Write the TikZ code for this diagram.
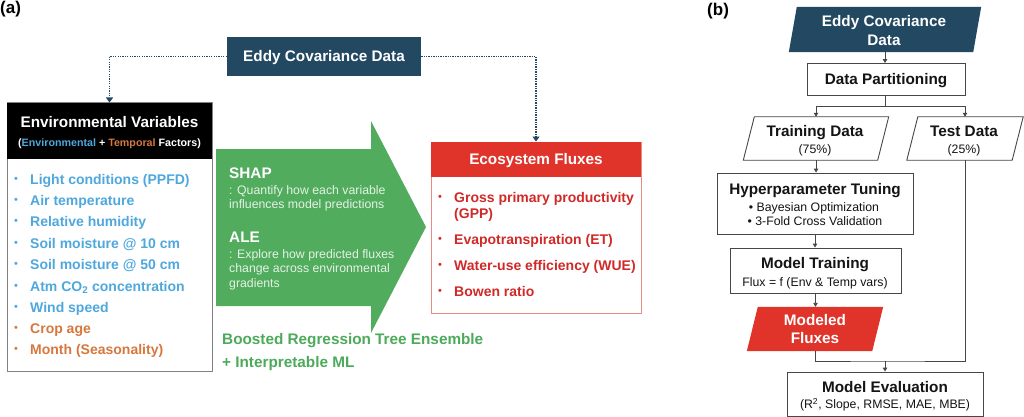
\documentclass[tikz,border=0pt]{standalone}
\usepackage{fontspec}
\setmainfont{Liberation Sans}
\usetikzlibrary{arrows.meta}
\definecolor{ecblue}{RGB}{35,72,97}
\definecolor{envblue}{RGB}{78,168,222}
\definecolor{envorange}{RGB}{214,120,62}
\definecolor{arrowgreen}{RGB}{82,172,94}
\definecolor{textgreen}{RGB}{76,170,90}
\definecolor{fluxred}{RGB}{224,52,42}
\definecolor{fluxtext}{RGB}{208,42,40}
\definecolor{fluxborder}{RGB}{232,140,130}
\definecolor{shaptext}{RGB}{228,242,228}
\definecolor{linegray}{RGB}{70,70,70}
\definecolor{envborder}{RGB}{130,130,130}
\definecolor{darktext}{RGB}{20,20,20}

% parallelogram: name, cx, cy, width, height, slant, path style
\newcommand\parabox[7]{%
  \node[inner sep=0pt, minimum width=#4, minimum height=#5] (#1) at (#2,#3) {};
  \path[#7] ([xshift=#6*0.5pt]#1.north west) -- ([xshift=#6*0.5pt]#1.north east)
    -- ([xshift=-#6*0.5pt]#1.south east) -- ([xshift=-#6*0.5pt]#1.south west) -- cycle;}

\begin{document}
\begin{tikzpicture}[x=1pt,y=-1pt,
  Bf/.style={inner sep=0pt, font=\fontsize{15.3}{18}\selectfont\bfseries, text height=11pt, text depth=0pt},
  Bl/.style={inner sep=0pt, font=\fontsize{14}{17}\selectfont\bfseries, text height=10pt, text depth=0pt},
  Rg/.style={inner sep=0pt, font=\fontsize{12.3}{15}\selectfont, text height=8.8pt, text depth=0pt},
  Sb/.style={inner sep=0pt, font=\fontsize{10.7}{13}\selectfont\bfseries, text height=7.7pt, text depth=0pt},
  Lb/.style={inner sep=0pt, font=\fontsize{17}{20}\selectfont\bfseries, text height=12pt, text depth=0pt},
  bul/.style={inner sep=0pt, font=\fontsize{11}{13}\selectfont, text height=6.6pt, text depth=0pt},
  rbox/.style={draw=linegray, line width=0.9pt, fill=white, inner sep=0pt},
  flowline/.style={draw=linegray, line width=0.9pt},
  flowarr/.style={flowline, -{Triangle[width=4.5pt,length=4pt]}},
  dotarr/.style={draw=ecblue, line width=1.9pt, dash pattern=on 1.3pt off 1.1pt, -{Triangle[width=7pt,length=5pt]}},
]
\useasboundingbox (0,0) rectangle (1024,417);

% ================= (a) =================
\node[Lb, anchor=west] (la) at (0,8) {(a)};

\node[Bf, text=white, fill=ecblue, minimum width=194pt, minimum height=39pt] (ec) at (324,56.5) {Eddy Covariance Data};

% Environmental variables box
\node[draw=envborder, line width=1pt, fill=white, minimum width=205pt, minimum height=268pt, inner sep=0pt] (env) at (109.5,237) {};
\node[fill=black, minimum width=205pt, minimum height=56pt, inner sep=0pt, anchor=north] (envh) at (env.north) {};
\node[Bf, text=white] (envt) at (109.5,122) {Environmental Variables};
\node[Sb, text=white] (envs) at (109.5,143) {(\textcolor{envblue}{Environmental} + \textcolor{envorange}{Temporal} Factors)};

\node[bul, text=envblue] (b1) at (16,179) {•};
\node[Bl, text=envblue, anchor=west] (e1) at (30,179) {Light conditions (PPFD)};
\node[bul, text=envblue] (b2) at (16,200) {•};
\node[Bl, text=envblue, anchor=west] (e2) at (30,200) {Air temperature};
\node[bul, text=envblue] (b3) at (16,221) {•};
\node[Bl, text=envblue, anchor=west] (e3) at (30,221) {Relative humidity};
\node[bul, text=envblue] (b4) at (16,243) {•};
\node[Bl, text=envblue, anchor=west] (e4) at (30,243) {Soil moisture @ 10 cm};
\node[bul, text=envblue] (b5) at (16,264) {•};
\node[Bl, text=envblue, anchor=west] (e5) at (30,264) {Soil moisture @ 50 cm};
\node[bul, text=envblue] (b6) at (16,286) {•};
\node[Bl, text=envblue, anchor=west] (e6) at (30,286) {Atm CO\textsubscript{2} concentration};
\node[bul, text=envblue] (b7) at (16,307) {•};
\node[Bl, text=envblue, anchor=west] (e7) at (30,307) {Wind speed};
\node[bul, text=envorange] (b8) at (16,328) {•};
\node[Bl, text=envorange, anchor=west] (e8) at (30,328) {Crop age};
\node[bul, text=envorange] (b9) at (16,349) {•};
\node[Bl, text=envorange, anchor=west] (e9) at (30,349) {Month (Seasonality)};

% Green arrow
\fill[arrowgreen] (216,149) -- (371,149) -- (371,121) -- (426,227) -- (371,333) -- (371,306) -- (216,306) -- cycle;
\node[Bf, text=white, anchor=west] (shap) at (229,173) {SHAP};
\node[Rg, text=shaptext, anchor=west] (shap1) at (229,190) {: Quantify how each variable};
\node[Rg, text=shaptext, anchor=west] (shap2) at (229,204.5) {influences model predictions};
\node[Bf, text=white, anchor=west] (ale) at (229,237) {ALE};
\node[Rg, text=shaptext, anchor=west] (ale1) at (229,254) {: Explore how predicted fluxes};
\node[Rg, text=shaptext, anchor=west] (ale2) at (229,268.5) {change across environmental};
\node[Rg, text=shaptext, anchor=west] (ale3) at (229,283) {gradients};

\node[Bf, text=textgreen, anchor=west] (brt1) at (222,339) {Boosted Regression Tree Ensemble};
\node[Bf, text=textgreen, anchor=west] (brt2) at (222,362) {+ Interpretable ML};

% Ecosystem fluxes box
\node[draw=fluxborder, line width=1pt, fill=white, minimum width=210pt, minimum height=171pt, inner sep=0pt] (flux) at (536,227.5) {};
\node[Bf, text=white, fill=fluxred, minimum width=210pt, minimum height=35pt, anchor=north] (fluxh) at (flux.north) {Ecosystem Fluxes};
\node[bul, text=fluxtext] (f1b) at (440,197) {•};
\node[Bl, text=fluxtext, anchor=west] (f1) at (454,197) {Gross primary productivity};
\node[Bl, text=fluxtext, anchor=west] (f1c) at (454,213) {(GPP)};
\node[bul, text=fluxtext] (f2b) at (440,239) {•};
\node[Bl, text=fluxtext, anchor=west] (f2) at (454,239) {Evapotranspiration (ET)};
\node[bul, text=fluxtext] (f3b) at (440,265) {•};
\node[Bl, text=fluxtext, anchor=west] (f3) at (454,265) {Water-use efficiency (WUE)};
\node[bul, text=fluxtext] (f4b) at (440,291) {•};
\node[Bl, text=fluxtext, anchor=west] (f4) at (454,291) {Bowen ratio};

\draw[dotarr] (ec.west) -| (env.north);
\draw[dotarr] (ec.east) -| (flux.north);

% ================= (b) =================
\node[Lb, anchor=west] (lb) at (707,10) {(b)};

\parabox{eddyR}{885}{29.5}{184pt}{45pt}{8}{fill=ecblue}
\node[Bf, text=white] (eddyRt1) at (884,21) {Eddy Covariance};
\node[Bf, text=white] (eddyRt2) at (884,40) {Data};

\node[rbox, Bf, text=darktext, minimum width=158pt, minimum height=32pt] (dp) at (886,79.5) {Data Partitioning};

\coordinate (split) at (885,106);

\parabox{train}{816}{138.5}{134pt}{43pt}{11}{draw=linegray, line width=0.9pt, fill=white}
\node[Bf, text=darktext] (traint) at (815,131) {Training Data};
\node[Rg, text=darktext] (trainp) at (815,149) {(75\%)};

\parabox{test}{965}{138.5}{105pt}{43pt}{11}{draw=linegray, line width=0.9pt, fill=white}
\node[Bf, text=darktext] (testt) at (964,131) {Test Data};
\node[Rg, text=darktext] (testp) at (964,149) {(25\%)};

\node[rbox, minimum width=196pt, minimum height=61pt] (hyper) at (815,203.5) {};
\node[Bf, text=darktext] (hypert) at (815,189) {Hyperparameter Tuning};
\node[Rg, text=darktext] (hyp1) at (814,207) {• Bayesian Optimization};
\node[Rg, text=darktext] (hyp2) at (815,221) {• 3-Fold Cross Validation};

\node[rbox, minimum width=171pt, minimum height=45pt] (mt) at (815.5,270.5) {};
\node[Bf, text=darktext] (mtt) at (815,263) {Model Training};
\node[Rg, text=darktext] (mtf) at (815,282) {Flux = f (Env \& Temp vars)};

\parabox{mf}{815}{329}{125pt}{44pt}{11}{fill=fluxred}
\node[Bf, text=white] (mft1) at (815,320) {Modeled};
\node[Bf, text=white] (mft2) at (815,338) {Fluxes};

\coordinate (join) at (885,361);

\node[rbox, minimum width=196pt, minimum height=44pt] (eval) at (885,394) {};
\node[Bf, text=darktext] (evalt) at (885,387) {Model Evaluation};
\node[Rg, text=darktext] (evals) at (885,404) {(R\textsuperscript{2}, Slope, RMSE, MAE, MBE)};

% connectors
\draw[flowarr] (eddyR.south) -- (eddyR.south |- dp.north);
\draw[flowline] (dp.south -| split) -- (split);
\draw[flowarr] (split) -| (train.north);
\draw[flowarr] (split) -| (test.north);
\draw[flowarr] (train.south) -- (train.south |- hyper.north);
\draw[flowarr] (hyper.south) -- (hyper.south |- mt.north);
\draw[flowarr] (mt.south) -- (mt.south |- mf.north);
\draw[flowline] (mf.south) |- (join) -- (join -| test.south) -- (test.south);
\draw[flowarr] (join) -- (eval.north);
\end{tikzpicture}
\end{document}
